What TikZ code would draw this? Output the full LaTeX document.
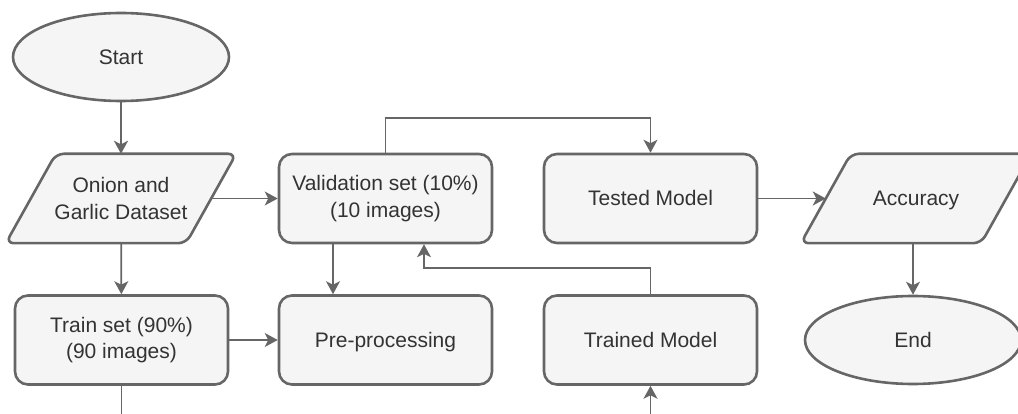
\documentclass[tikz,border=0pt]{standalone}
\usepackage{fontspec}
\setmainfont{Liberation Sans}
\usetikzlibrary{shapes.geometric,arrows.meta}
\definecolor{boxfill}{HTML}{F5F5F5}
\definecolor{boxline}{HTML}{666666}
\definecolor{txt}{HTML}{333333}
\tikzset{
  base/.style={font=\fontsize{21}{26.5}\selectfont, text=txt, align=center, inner sep=0pt},
  oneline/.style={text height=19pt, text depth=4.5pt},
  procbox/.style={base, draw=boxline, fill=boxfill, line width=2.6pt, rounded corners=13pt, minimum width=213pt, minimum height=89pt},
  termbox/.style={base, oneline, ellipse, draw=boxline, fill=boxfill, line width=2.6pt, minimum width=216pt, minimum height=88pt},
  iobox/.style={base, minimum width=180pt, minimum height=89pt},
  ioshape/.style={draw=boxline, fill=boxfill, line width=2.6pt, rounded corners=8pt},
  conn/.style={draw=boxline, line width=1.8pt},
  arr/.style={conn, -{Stealth[length=13pt,width=14pt,inset=3.5pt]}},
}
\newcommand{\ioparallel}[1]{%
  \path[ioshape] ([xshift=25pt]#1.north west) -- ([xshift=25pt]#1.north east)
    -- ([xshift=-25pt]#1.south east) -- ([xshift=-25pt]#1.south west) -- cycle;}
\begin{document}
\begin{tikzpicture}[x=1pt,y=-1pt]
\useasboundingbox (0,0) rectangle (1018,414);
% nodes
\node[termbox] (start) at (121,57) {Start};
\node[iobox] (onion) at (121,198.5) {};
\ioparallel{onion}
\node[base] (onionlabel) at (onion) {Onion and\\Garlic Dataset};
\node[procbox] (val) at (385.5,198.5) {Validation set (10\%)\\(10 images)};
\node[procbox, oneline] (tested) at (650.5,198.5) {Tested Model};
\node[iobox] (acc) at (916,198.5) {};
\ioparallel{acc}
\node[base, oneline] (acclabel) at (acc) {Accuracy};
\node[procbox] (train) at (121.5,340) {Train set (90\%)\\(90 images)};
\node[procbox, oneline] (pre) at (385.5,340) {Pre-processing};
\node[procbox, oneline] (trained) at (650.5,340) {Trained Model};
\node[termbox] (end) at (913,340) {End};
% connectors
\draw[arr] (start) -- (onion);
\draw[arr] (onion) -- (val);
\draw[arr] (onion) -- (train);
\draw[arr] (train) -- (pre);
\draw[arr] ([xshift=-52.5pt]val.south) -- ([xshift=-52.5pt]pre.north);
\draw[arr] (val.north) -- ([yshift=35pt]val.north) -| (tested.north);
\draw[arr] (trained.north) -- ([yshift=26pt]trained.north) -| ([xshift=38.5pt]val.south);
\draw[arr] (tested) -- (acc);
\draw[arr] (acc.south -| end.north) -- (end.north);
\coordinate (trainout) at ([yshift=-50pt]train.south);
\draw[conn] (train.south) -- (trainout);
\coordinate (trainedin) at ([yshift=-50pt]trained.south);
\draw[arr] (trainedin) -- (trained.south);
\end{tikzpicture}
\end{document}
